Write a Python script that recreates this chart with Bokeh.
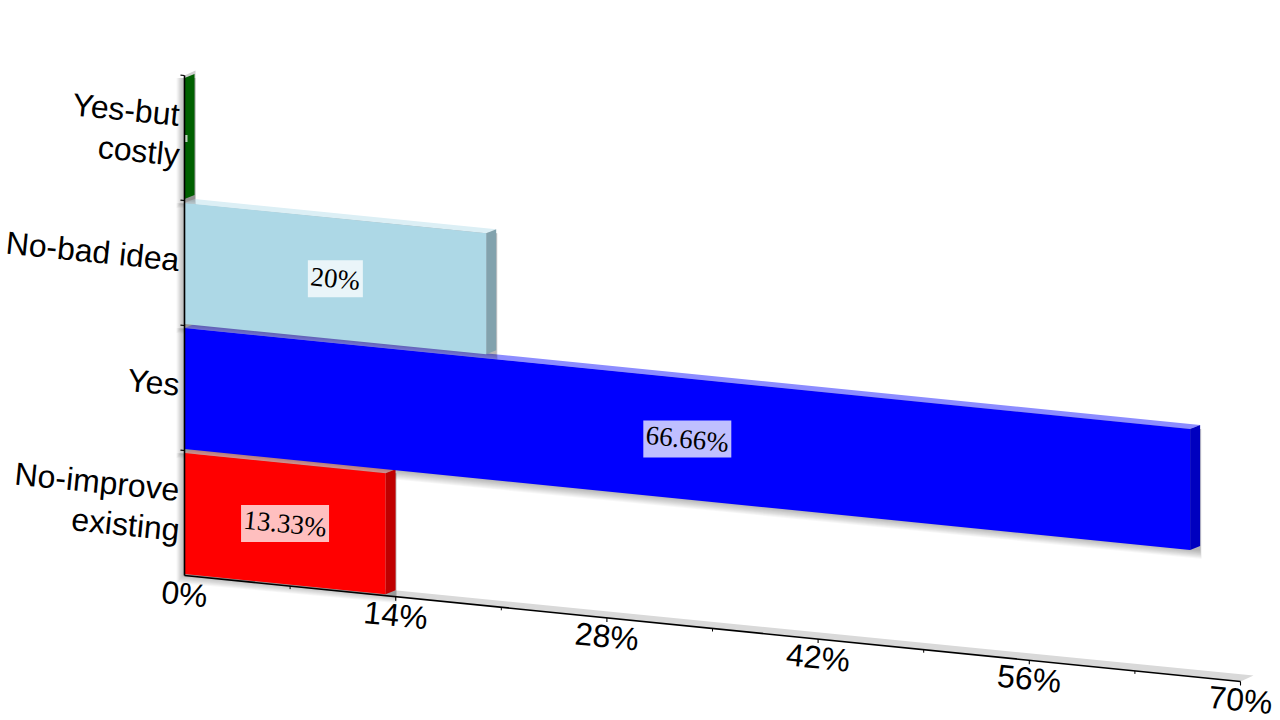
import math
from bokeh.plotting import figure
from bokeh.core.properties import value
from bokeh.embed import file_html
from bokeh.resources import INLINE

categories = ["No-improve existing", "Yes", "No-bad idea", "Yes-but costly"]
label_lines = [["No-improve", "existing"], ["Yes"], ["No-bad idea"], ["Yes-but", "costly"]]
values = [13.33, 66.66, 20, 0]
data_labels = ["13.33%", "66.66%", "20%", ""]
colors = ["#ff0000", "#0000ff", "#add8e6", "#008000"]
side_colors = ["#bf0000", "#0000bf", "#82a2ad", "#006000"]
top_colors = ["#ffb4b4", "#8c8cff", "#dceff5", "#c8c8c8"]
box_widths_px = [88, 88, 55, 3]
major_ticks = [0, 14, 28, 42, 56, 70]
minor_ticks = [7, 21, 35, 49, 63]
major_labels = ["0%", "14%", "28%", "42%", "56%", "70%"]

W, H = 1280, 720
X0, Y0 = 184.0, 575.0
PXV = 1056.0 / 70.0
PXB = 125.0
SLOPE = 106.0 / 1056.0
SHEAR = SLOPE * PXV / PXB
ANGLE = -math.atan(SLOPE)
BAR_H = 0.968
BAR_UP = -1.5
DEPTH = (10.0, -4.0)


def pt(v, b, dx=0.0, dy=0.0):
    return (v + dx / PXV, b - SHEAR * v - dy / PXB)


def bt(v, b, dx=0.0, dy=0.0):
    return pt(v, b, dx, dy + BAR_UP)


def poly(p, pts, color, alpha=1.0):
    p.patch([q[0] for q in pts], [q[1] for q in pts], fill_color=color,
            fill_alpha=alpha, line_color=None)


p = figure(width=W, height=H, output_backend="svg", toolbar_location=None,
           x_range=(-X0 / PXV, (W - X0) / PXV),
           y_range=((Y0 - H) / PXB, Y0 / PXB),
           x_axis_location=None, y_axis_location=None,
           min_border=0, outline_line_color=None)
p.grid.visible = False
p.background_fill_color = "#ffffff"
p.border_fill_color = "#ffffff"

# floor and wall
poly(p, [pt(0, 0), pt(0, 0, 11, -5), pt(major_ticks[-1], 0, 13, -6), pt(major_ticks[-1], 0)], "#d9d9d9")
poly(p, [pt(0, 0), pt(0, 0, 11, -5), pt(0, 4, 11, -5), pt(0, 4)], "#d0d0d0")

# shadows and top faces
for i, v in enumerate(values):
    for k in range(10, 0, -1):
        poly(p, [bt(0, i, -0.8 * k, k * 0.9), bt(0, i + BAR_H, -0.8 * k, 0),
                 bt(v, i + BAR_H, DEPTH[0] + 0.15 * k, 0),
                 bt(v, i, DEPTH[0] + 0.15 * k, k * 0.9)], "#000000", 0.03)
    poly(p, [bt(0, i + BAR_H), bt(0, i + BAR_H, *DEPTH), bt(v, i + BAR_H, *DEPTH), bt(v, i + BAR_H)], top_colors[i])

# front and side faces, labels
for i, v in enumerate(values):
    poly(p, [bt(v, i), bt(v, i, *DEPTH), bt(v, i + BAR_H, *DEPTH), bt(v, i + BAR_H)], side_colors[i])
    if v > 0:
        poly(p, [bt(0, i), bt(0, i + BAR_H), bt(v, i + BAR_H), bt(v, i)], colors[i])
    cx, cb = v / 2.0, i + BAR_H / 2.0
    bw, bh = box_widths_px[i] / 2.0, 18.5
    if v == 0:
        bh, cxo = 3.5, 1.5
    else:
        cxo = 0.0
    poly(p, [bt(cx, cb, cxo - bw, -bh), bt(cx, cb, cxo + bw, -bh),
             bt(cx, cb, cxo + bw, bh), bt(cx, cb, cxo - bw, bh)], "#ffffff", 0.75)
    if data_labels[i]:
        tx, ty = bt(cx, cb)
        p.text([tx], [ty], text=[data_labels[i]], text_align="center", text_baseline="middle",
               angle=ANGLE, text_font=value("Liberation Serif"), text_font_size="27px", text_color="#000000")

# axes
line_w = 1.6
ax = [pt(0, 0), pt(major_ticks[-1], 0)]
p.line([q[0] for q in ax], [q[1] for q in ax], line_color="#000000", line_width=line_w)
ax = [pt(0, 0), pt(0, 4)]
p.line([q[0] for q in ax], [q[1] for q in ax], line_color="#000000", line_width=line_w)
for t in major_ticks[1:]:
    s = [pt(t, 0), pt(t, 0, 0, 4)]
    p.line([q[0] for q in s], [q[1] for q in s], line_color="#000000", line_width=1.1)
for t in minor_ticks:
    s = [pt(t, 0), pt(t, 0, 0, 3)]
    p.line([q[0] for q in s], [q[1] for q in s], line_color="#000000", line_width=1.0)
for b in range(1, 5):
    s = [pt(0, b), pt(0, b, -4, -0.4)]
    p.line([q[0] for q in s], [q[1] for q in s], line_color="#000000", line_width=1.1)

# tick labels
for t, lab in zip(major_ticks, major_labels):
    tx, ty = pt(t, 0, 0, 18.5)
    p.text([tx], [ty], text=[lab], text_align="center", text_baseline="middle", angle=ANGLE,
           text_font=value("Liberation Sans"), text_font_size="32px", text_color="#000000")

# category labels
for i, lines in enumerate(label_lines):
    n = len(lines)
    for j, line in enumerate(lines):
        off = (j - (n - 1) / 2.0) * 40.0
        tx, ty = pt(0, i + 0.5, -5, off - 3)
        p.text([tx], [ty], text=[line], text_align="right", text_baseline="middle", angle=ANGLE,
               text_font=value("Liberation Sans"), text_font_size="32px", text_color="#000000")

open("out.html", "w").write(file_html(p, INLINE))
